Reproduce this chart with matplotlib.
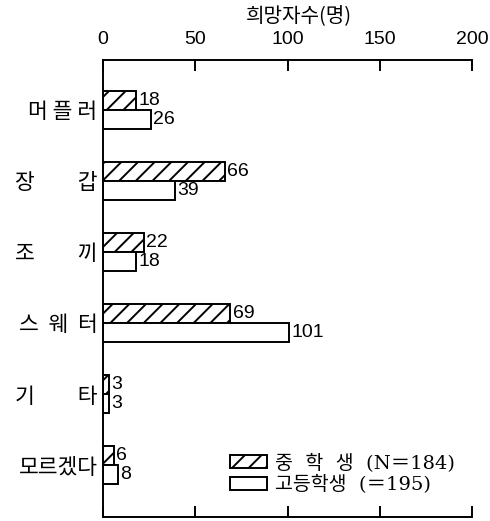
import matplotlib.pyplot as plt
import numpy as np

plt.rcParams['font.family'] = ['Noto Sans CJK KR', 'DejaVu Sans']
plt.rcParams['hatch.linewidth'] = 1.4

# items and number of students who want each one
items = ['머 플 러', '장\u3000\u3000갑', '조\u3000\u3000끼', '스  웨  터', '기\u3000\u3000타', '모르겠다']
middle = [18, 66, 22, 69, 3, 6]     # 중학생
high = [26, 39, 18, 101, 3, 8]      # 고등학생
xticks = [0, 50, 100, 150, 200]

fig = plt.figure(figsize=(4.9, 5.21), dpi=100)
ax = fig.add_axes([103/490, 4/521, 369/490, 457/521])

y = np.arange(len(items))
h = 0.27
ax.barh(y - h/2, middle, height=h, color='white', edgecolor='black',
        hatch='//', lw=1.4, label='중  학  생  (N＝184)')
ax.barh(y + h/2, high, height=h, color='white', edgecolor='black',
        lw=1.4, label='고등학생  (＝195)')

for yy, v in zip(y, middle):
    ax.text(v + 1.2, yy - h/2, str(v), va='center', ha='left', fontsize=14,
            family=['Liberation Sans'])
for yy, v in zip(y, high):
    ax.text(v + 1.2, yy + h/2, str(v), va='center', ha='left', fontsize=14,
            family=['Liberation Sans'])

ax.set_xlim(0, 200)
ax.set_ylim(5.73, -0.70)
ax.set_xticks(xticks)
ax.set_xticklabels([str(t) for t in xticks], family=['Liberation Sans'], fontsize=14)
ax.tick_params(axis='x', top=True, bottom=True, labeltop=True, labelbottom=False,
               direction='in', length=8, width=1.4, pad=9)
ax.set_yticks(y)
ax.set_yticklabels(items, fontsize=15.5, weight='medium')
ax.tick_params(axis='y', length=0, pad=4)

ax.xaxis.set_label_position('top')
ax.set_xlabel('희망자수(명)', fontsize=14.5, weight='medium', labelpad=6, x=0.53)

ax.spines['right'].set_visible(False)
for s in ['top', 'bottom', 'left']:
    ax.spines[s].set_linewidth(1.4)

ax.legend(loc='lower right', bbox_to_anchor=(1.0, 0.012), frameon=False,
          handlelength=1.9, handleheight=0.65, labelspacing=0.12, handletextpad=0.4,
          prop={'family': ['DejaVu Serif', 'Noto Sans CJK KR'], 'size': 14})

fig.savefig('out.png')
